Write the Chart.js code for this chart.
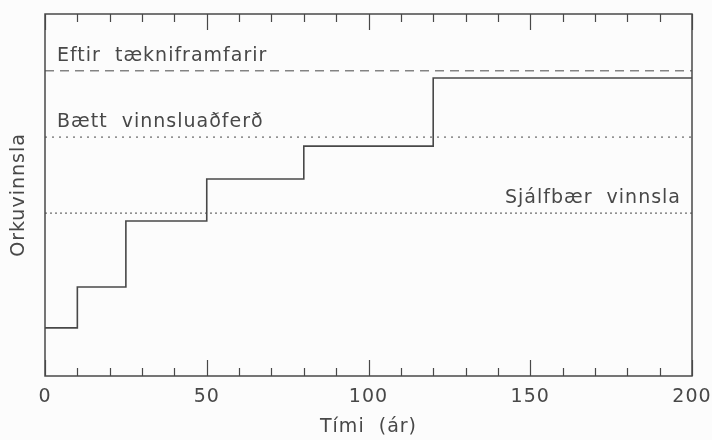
<!DOCTYPE html>
<html>
<head>
<meta charset="utf-8">
<script src="https://cdn.jsdelivr.net/npm/chart.js@4.4.1/dist/chart.umd.min.js"></script>
<style>
  html, body { margin: 0; padding: 0; background: #fcfcfc; }
  #wrap { width: 712px; height: 440px; }
</style>
</head>
<body>
<div id="wrap"><canvas id="orkaChart" width="712" height="440"></canvas></div>
<script>
// gögn lesin af myndinni
const timiAr = [0, 10, 25, 50, 80, 120, 200];
const orkuvinnsla = [13.3, 24.6, 42.8, 54.4, 63.5, 82.3, 82.3];
const stigHeiti = ['Eftir tækniframfarir', 'Bætt vinnsluaðferð', 'Sjálfbær vinnsla'];
const stigGildi = [84.3, 66.0, 45.0];
const xTikk = [0, 50, 100, 150, 200];

const litur = '#484848';
const letur = '"DejaVu Sans", sans-serif';

// lárétt viðmiðunarlína yfir allan ásinn
function stigLina(gildi, dash) {
  return {
    data: [{ x: 0, y: gildi }, { x: 200, y: gildi }],
    borderColor: litur,
    borderWidth: 1,
    borderDash: dash,
    pointRadius: 0,
    fill: false
  };
}

// rammi, tikk inn á við og textar við línurnar
const rammiPlugin = {
  id: 'rammi',
  beforeDraw(chart) {
    chart.ctx.letterSpacing = '1px';
  },
  afterDatasetsDraw(chart) {
    const { ctx, chartArea: a, scales } = chart;
    const x = scales.x, y = scales.y;
    ctx.save();
    ctx.strokeStyle = litur;
    ctx.lineWidth = 1.5;
    ctx.strokeRect(a.left, a.top, a.right - a.left, a.bottom - a.top);

    ctx.lineWidth = 1.2;
    for (let v = 0; v <= 200; v += 10) {
      const px = Math.round(x.getPixelForValue(v)) + 0.5;
      const len = v % 50 === 0 ? 16 : 8;
      ctx.beginPath();
      ctx.moveTo(px, a.bottom);
      ctx.lineTo(px, a.bottom - len);
      ctx.moveTo(px, a.top);
      ctx.lineTo(px, a.top + len);
      ctx.stroke();
    }

    ctx.fillStyle = litur;
    ctx.font = '19px ' + letur;
    ctx.letterSpacing = '1px';
    ctx.textBaseline = 'alphabetic';
    stigHeiti.forEach((t, i) => {
      const py = y.getPixelForValue(stigGildi[i]) - 10;
      const texti = t.replace(' ', '  ');
      if (i < 2) {
        ctx.textAlign = 'left';
        ctx.fillText(texti, a.left + 12, py);
      } else {
        ctx.textAlign = 'right';
        ctx.fillText(texti, a.right - 11, py);
      }
    });
    ctx.restore();
  }
};

new Chart(document.getElementById('orkaChart').getContext('2d'), {
  type: 'line',
  data: {
    datasets: [
      {
        data: timiAr.map((t, i) => ({ x: t, y: orkuvinnsla[i] })),
        stepped: 'before',
        borderColor: litur,
        borderWidth: 1.6,
        pointRadius: 0,
        fill: false
      },
      stigLina(stigGildi[0], [9, 6]),
      stigLina(stigGildi[1], [2, 5]),
      stigLina(stigGildi[2], [2, 3])
    ]
  },
  options: {
    responsive: false,
    animation: false,
    layout: { padding: { top: 14, right: 0, left: 0, bottom: 0 } },
    plugins: { legend: { display: false }, tooltip: { enabled: false } },
    scales: {
      x: {
        type: 'linear',
        min: 0,
        max: 200,
        afterBuildTicks: s => { s.ticks = xTikk.map(v => ({ value: v })); },
        afterFit: s => { s.height = 64; s.paddingRight = 20; },
        grid: { display: false, drawTicks: false },
        border: { display: false },
        ticks: { color: litur, font: { family: letur, size: 19 }, padding: 10, maxRotation: 0 },
        title: { display: true, text: 'Tími  (ár)', color: litur, font: { family: letur, size: 19 }, padding: { top: 0, bottom: 2 } }
      },
      y: {
        min: 0,
        max: 100,
        afterFit: s => { s.width = 45; },
        grid: { display: false, drawTicks: false },
        border: { display: false },
        ticks: { display: false },
        title: { display: true, text: 'Orkuvinnsla', color: litur, font: { family: letur, size: 19 }, padding: { top: 8, bottom: 0 } }
      }
    }
  },
  plugins: [rammiPlugin]
});
</script>
</body>
</html>
